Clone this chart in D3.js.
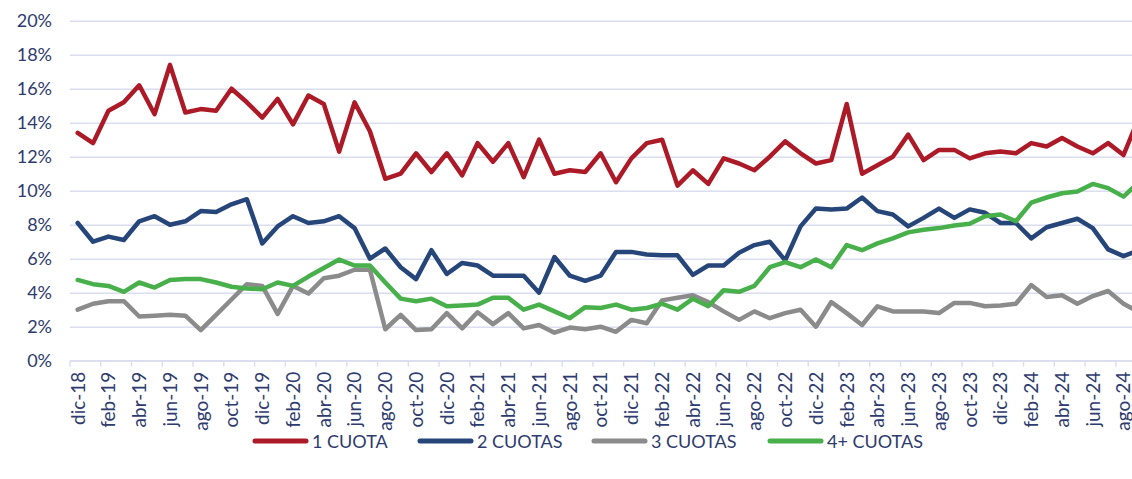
<!DOCTYPE html>
<html>
<head>
<meta charset="utf-8">
<script src="https://cdn.jsdelivr.net/npm/d3@7"></script>
<style>
    body { margin: 0; background: #ffffff; }
    svg { display: block; }
</style>
</head>
<body>
<script>

// months shown on the x axis (dic-18 to sep-24)
var months = ["dic-18", "ene-19", "feb-19", "mar-19", "abr-19", "may-19", "jun-19", "jul-19", "ago-19", "sep-19", "oct-19", "nov-19",
              "dic-19", "ene-20", "feb-20", "mar-20", "abr-20", "may-20", "jun-20", "jul-20", "ago-20", "sep-20", "oct-20", "nov-20",
              "dic-20", "ene-21", "feb-21", "mar-21", "abr-21", "may-21", "jun-21", "jul-21", "ago-21", "sep-21", "oct-21", "nov-21",
              "dic-21", "ene-22", "feb-22", "mar-22", "abr-22", "may-22", "jun-22", "jul-22", "ago-22", "sep-22", "oct-22", "nov-22",
              "dic-22", "ene-23", "feb-23", "mar-23", "abr-23", "may-23", "jun-23", "jul-23", "ago-23", "sep-23", "oct-23", "nov-23",
              "dic-23", "ene-24", "feb-24", "mar-24", "abr-24", "may-24", "jun-24", "jul-24", "ago-24", "sep-24"];

// share of purchases (%) per number of instalments
var cuota1 = [13.4, 12.8, 14.7, 15.2, 16.2, 14.5, 17.4, 14.6, 14.8, 14.7, 16.0, 15.2,
              14.3, 15.4, 13.9, 15.6, 15.1, 12.3, 15.2, 13.5, 10.7, 11.0, 12.2, 11.1,
              12.2, 10.9, 12.8, 11.7, 12.8, 10.8, 13.0, 11.0, 11.2, 11.1, 12.2, 10.5,
              11.9, 12.8, 13.0, 10.3, 11.2, 10.4, 11.9, 11.6, 11.2, 12.0, 12.9, 12.2,
              11.6, 11.8, 15.1, 11.0, 11.5, 12.0, 13.3, 11.8, 12.4, 12.4, 11.9, 12.2,
              12.3, 12.2, 12.8, 12.6, 13.1, 12.6, 12.2, 12.8, 12.1, 14.3];

var cuotas2 = [8.1, 7.0, 7.3, 7.1, 8.2, 8.5, 8.0, 8.2, 8.8, 8.75, 9.2, 9.5,
               6.9, 7.9, 8.5, 8.1, 8.2, 8.5, 7.8, 6.0, 6.6, 5.5, 4.8, 6.5,
               5.1, 5.75, 5.6, 5.0, 5.0, 5.0, 4.0, 6.1, 5.0, 4.7, 5.0, 6.4,
               6.4, 6.25, 6.2, 6.2, 5.05, 5.6, 5.6, 6.35, 6.8, 7.0, 5.9, 7.9,
               8.95, 8.9, 8.95, 9.6, 8.8, 8.6, 7.9, 8.4, 8.95, 8.4, 8.9, 8.7,
               8.1, 8.1, 7.2, 7.85, 8.1, 8.35, 7.8, 6.55, 6.15, 6.5];

var cuotas3 = [3.0, 3.35, 3.5, 3.5, 2.6, 2.65, 2.7, 2.65, 1.8, 2.7, 3.6, 4.5,
               4.4, 2.75, 4.4, 3.95, 4.85, 5.0, 5.35, 5.35, 1.85, 2.7, 1.8, 1.85,
               2.8, 1.9, 2.85, 2.15, 2.8, 1.9, 2.1, 1.65, 1.95, 1.85, 2.0, 1.7,
               2.4, 2.2, 3.55, 3.7, 3.85, 3.45, 2.9, 2.4, 2.9, 2.5, 2.8, 3.0,
               2.0, 3.45, 2.8, 2.1, 3.2, 2.9, 2.9, 2.9, 2.8, 3.4, 3.4, 3.2,
               3.25, 3.35, 4.45, 3.75, 3.85, 3.35, 3.8, 4.1, 3.35, 2.85];

var cuotas4 = [4.75, 4.5, 4.4, 4.05, 4.6, 4.3, 4.75, 4.8, 4.8, 4.6, 4.35, 4.25,
               4.2, 4.6, 4.4, 4.95, 5.45, 5.95, 5.6, 5.6, 4.6, 3.65, 3.5, 3.65,
               3.2, 3.25, 3.3, 3.7, 3.7, 3.0, 3.3, 2.9, 2.5, 3.15, 3.1, 3.3,
               3.0, 3.1, 3.35, 3.0, 3.65, 3.2, 4.15, 4.05, 4.4, 5.5, 5.8, 5.5,
               5.95, 5.5, 6.8, 6.5, 6.9, 7.2, 7.55, 7.7, 7.8, 7.95, 8.05, 8.5,
               8.6, 8.2, 9.3, 9.6, 9.85, 9.95, 10.4, 10.15, 9.65, 10.5];

var seriesNames = ["1 CUOTA", "2 CUOTAS", "3 CUOTAS", "4+ CUOTAS"];
var seriesColors = ["#ad1a27", "#26467a", "#8b8b8b", "#48b04b"];
var yTicks = [0, 2, 4, 6, 8, 10, 12, 14, 16, 18, 20];

// sizes
var canvasX = 1132;
var canvasY = 479;
var plotLeft = 70;
var step = 15.38;
var plotTop = 20.7;
var plotBottom = 360.7;
var textColor = "#2e3b6e";
var fontName = "Lato, 'Open Sans', sans-serif";

window.onload = function() {

    var svg = d3.select("body")
                .append("svg")
                .attr("width", canvasX)
                .attr("height", canvasY);

    // scales
    var scaleX = d3.scalePoint()
                   .domain(months)
                   .range([plotLeft, plotLeft + months.length * step])
                   .padding(0.5);

    var scaleY = d3.scaleLinear()
                   .domain([0, 20])
                   .range([plotBottom, plotTop]);

    drawGrid(svg, scaleX, scaleY);
    drawXAxis(svg, scaleX);
    drawLines(svg, scaleX, scaleY);
    drawLegend(svg);
};

// horizontal gridlines and y labels
function drawGrid(svg, scaleX, scaleY) {

    var yAxis = d3.axisLeft(scaleY)
                  .tickValues(yTicks)
                  .tickSize(-(canvasX - plotLeft + 20))
                  .tickPadding(18)
                  .tickFormat(function(d) { return d + "%"; });

    var g = svg.append("g")
               .attr("transform", "translate(" + plotLeft + ",0)")
               .call(yAxis);

    g.select(".domain").remove();
    g.selectAll(".tick line")
     .attr("stroke", "#dadeef")
     .attr("stroke-width", 1.4);
    g.selectAll(".tick text")
     .attr("fill", textColor)
     .style("font-family", fontName)
     .style("font-size", "18px");
};

// x axis with ticks every two months
function drawXAxis(svg, scaleX) {

    var g = svg.append("g");
    var half = scaleX.step() / 2;
    var shown = months.filter(function(d, i) { return i % 2 == 0; });

    g.append("line")
     .attr("x1", plotLeft)
     .attr("x2", canvasX + 20)
     .attr("y1", plotBottom)
     .attr("y2", plotBottom)
     .attr("stroke", "#dadeef")
     .attr("stroke-width", 1.4);

    g.selectAll(".xtick")
     .data(shown)
     .enter()
     .append("line")
     .attr("class", "xtick")
     .attr("x1", function(d) { return scaleX(d) - half; })
     .attr("x2", function(d) { return scaleX(d) - half; })
     .attr("y1", plotBottom)
     .attr("y2", plotBottom + 6)
     .attr("stroke", "#dadeef")
     .attr("stroke-width", 1.4);

    g.selectAll(".xlabel")
     .data(shown)
     .enter()
     .append("text")
     .attr("class", "xlabel")
     .attr("transform", function(d) {
         return "translate(" + scaleX(d) + "," + (plotBottom + 11) + ") rotate(-90)";
     })
     .attr("dy", "0.36em")
     .attr("text-anchor", "end")
     .attr("fill", textColor)
     .style("font-family", fontName)
     .style("font-size", "19px")
     .text(function(d) { return d; });
};

// the four series
function drawLines(svg, scaleX, scaleY) {

    var data = [cuota1, cuotas2, cuotas3, cuotas4];

    var line = d3.line()
                 .x(function(d, i) { return scaleX(months[i]); })
                 .y(function(d) { return scaleY(d); });

    svg.selectAll(".serie")
       .data(data)
       .enter()
       .append("path")
       .attr("class", "serie")
       .attr("d", line)
       .attr("fill", "none")
       .attr("stroke", function(d, i) { return seriesColors[i]; })
       .attr("stroke-width", 4.5)
       .attr("stroke-linejoin", "round")
       .attr("stroke-linecap", "round");
};

// legend below the chart
function drawLegend(svg) {

    var starts = [255, 420, 594, 770];
    var legendY = 441;

    var legend = svg.selectAll(".legend")
                    .data(seriesNames)
                    .enter()
                    .append("g")
                    .attr("class", "legend")
                    .attr("transform", function(d, i) {
                        return "translate(" + starts[i] + "," + legendY + ")";
                    });

    legend.append("line")
          .attr("x1", 0)
          .attr("x2", 51)
          .attr("stroke", function(d, i) { return seriesColors[i]; })
          .attr("stroke-width", 5)
          .attr("stroke-linecap", "round");

    legend.append("text")
          .attr("x", 57)
          .attr("y", 7)
          .attr("fill", textColor)
          .style("font-family", fontName)
          .style("font-size", "18px")
          .text(function(d) { return d; });
};

</script>
</body>
</html>
